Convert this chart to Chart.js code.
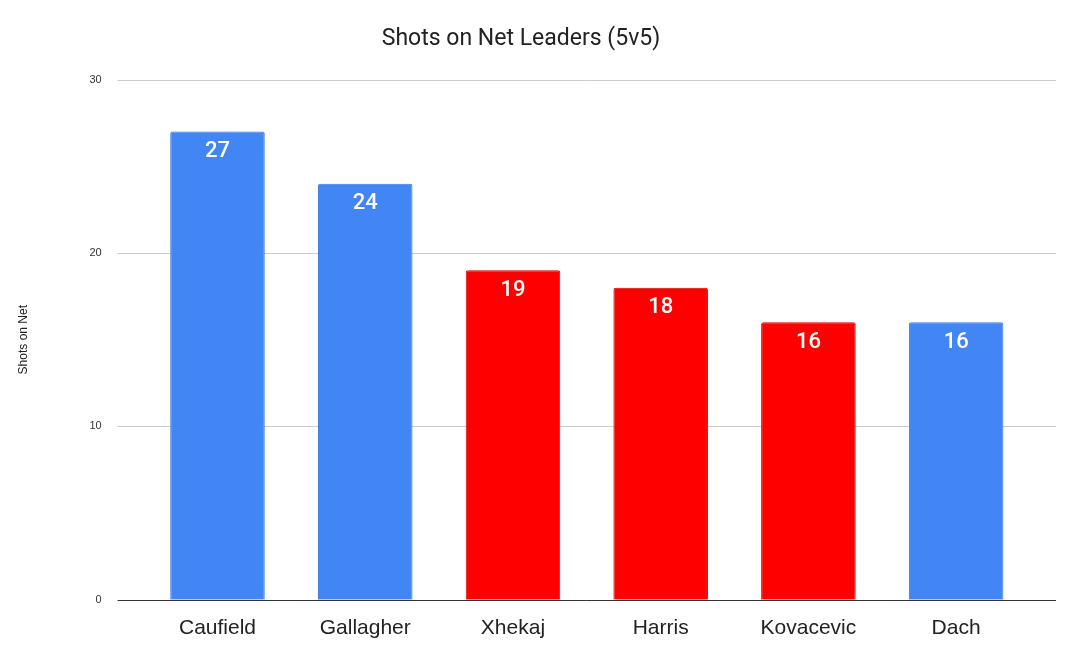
<!DOCTYPE html>
<html><head><meta charset="utf-8">
<script src="https://cdn.jsdelivr.net/npm/chart.js@4"></script>
<style>html,body{margin:0;padding:0;background:#fff}#w{width:1071px;height:655px}</style>
</head><body><div id="w"><canvas id="c"></canvas></div>
<script>
const categories = ["Caufield","Gallagher","Xhekaj","Harris","Kovacevic","Dach"];
const shots = [27,24,19,18,16,16];
const team = ["blue","blue","red","red","red","blue"];
const yTicks = [0,10,20,30];
const fill = {blue:"#4285f4", red:"#ff0000"};
const edge = {blue:"#3b78dc", red:"#d90000"};
const EXT = 26;
const gridPlugin = {
  id:"grid",
  beforeDatasetsDraw(chart){
    const ctx = chart.ctx, a = chart.chartArea, y = chart.scales.y;
    ctx.save();
    yTicks.forEach(v=>{
      const py = Math.round(y.getPixelForValue(v))+0.5;
      ctx.strokeStyle = v===0 ? "#333" : "#ccc"; ctx.lineWidth=1;
      ctx.beginPath(); ctx.moveTo(a.left-EXT,py); ctx.lineTo(a.right+EXT,py); ctx.stroke();
    });
    ctx.restore();
  }
};
const labelPlugin = {
  id:"lbl",
  afterDatasetsDraw(chart){
    const ctx = chart.ctx, meta = chart.getDatasetMeta(0);
    ctx.save();
    ctx.fillStyle="#fff"; ctx.font="500 22px Roboto, Arial, sans-serif";
    ctx.textAlign="center"; ctx.textBaseline="middle";
    meta.data.forEach((b,i)=>ctx.fillText(String(shots[i]), b.x, b.y+20));
    ctx.restore();
  }
};
new Chart(document.getElementById("c"),{
  type:"bar",
  data:{labels:categories,datasets:[{data:shots,
    backgroundColor:team.map(t=>fill[t]),borderColor:team.map(t=>edge[t]),
    borderWidth:1,borderRadius:2,borderSkipped:"bottom",
    barPercentage:0.64,categoryPercentage:1}]},
  options:{responsive:true,maintainAspectRatio:false,animation:false,
    layout:{padding:{left:12,right:15+EXT,top:10,bottom:6}},
    plugins:{legend:{display:false},tooltip:{enabled:false},
      title:{display:true,text:"Shots on Net Leaders (5v5)",color:"#222",
        font:{family:"Roboto, Arial, sans-serif",size:23,weight:"normal"},padding:{top:15,bottom:27}}},
    scales:{
      x:{grid:{display:false},border:{display:false},
        ticks:{color:"#222",font:{family:"Arial, Liberation Sans, sans-serif",size:21},padding:8}},
      y:{min:0,max:30,afterBuildTicks(ax){ax.ticks=yTicks.map(v=>({value:v}));},
        grid:{display:false},border:{display:false},
        ticks:{color:"#333",font:{family:"Arial, Liberation Sans, sans-serif",size:11},padding:8+EXT},
        title:{display:true,text:"Shots on Net",color:"#222",font:{family:"Arial, Liberation Sans, sans-serif",size:12},padding:{bottom:25}}}
    }},
  plugins:[gridPlugin,labelPlugin]
});
</script></body></html>
